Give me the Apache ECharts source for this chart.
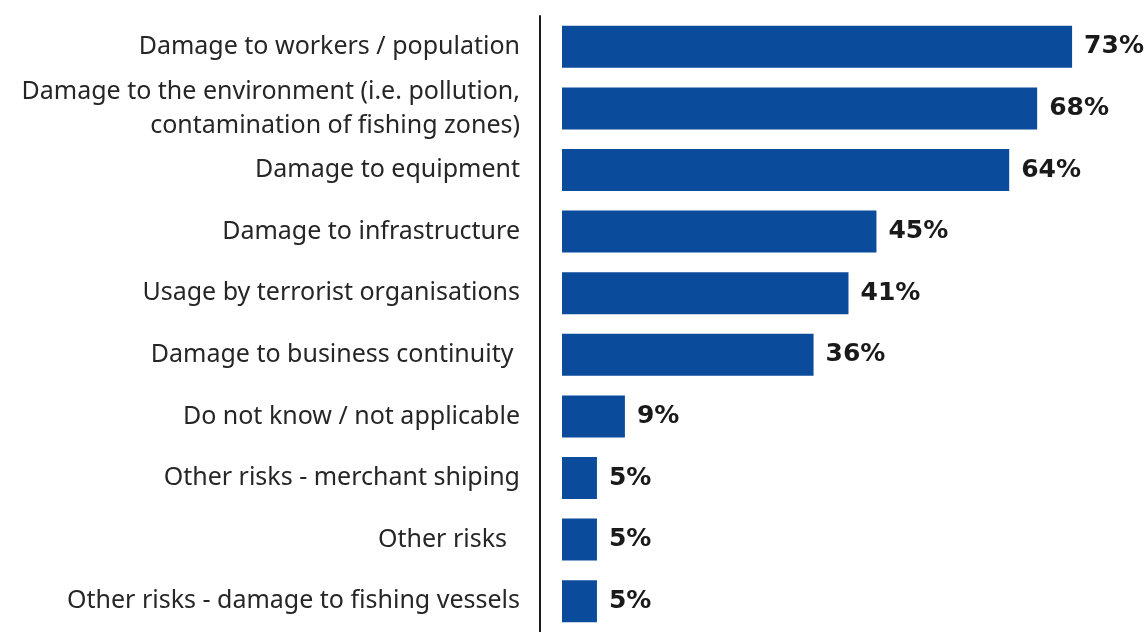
<!DOCTYPE html>
<html>
<head>
<meta charset="utf-8">
<script src="https://cdn.jsdelivr.net/npm/echarts@6/dist/echarts.min.js"></script>
<style>
  html, body { margin: 0; padding: 0; background: #ffffff; }
  #chart { width: 1148px; height: 632px; }
</style>
</head>
<body>
<div id="chart"></div>
<script>
// Risk categories, top to bottom
const categories = [
  'Damage to workers / population',
  'Damage to the environment (i.e. pollution,\ncontamination of fishing zones)',
  'Damage to equipment',
  'Damage to infrastructure',
  'Usage by terrorist organisations',
  'Damage to business continuity ',
  'Do not know / not applicable',
  'Other risks - merchant shiping',
  'Other risks  ',
  'Other risks - damage to fishing vessels'
];

// Share of respondents (%)
const shares = [73, 68, 64, 45, 41, 36, 9, 5, 5, 5];

const chart = echarts.init(document.getElementById('chart'), null, { renderer: 'canvas' });

chart.setOption({
  animation: false,
  backgroundColor: '#ffffff',
  // the small negative min leaves a gap between the axis line and the bars' base
  grid: { left: 540, right: 27, top: 16, bottom: -7, containLabel: false },
  xAxis: {
    type: 'value',
    min: -3.15,
    max: 80,
    show: false
  },
  yAxis: {
    type: 'category',
    data: categories,
    inverse: true,
    axisLine: { show: true, onZero: false, lineStyle: { color: '#1a1a1a', width: 2 } },
    axisTick: { show: false },
    splitLine: { show: false },
    axisLabel: {
      margin: 20,
      fontFamily: 'Noto Sans',
      fontSize: 25,
      lineHeight: 34,
      color: '#262626',
      align: 'right'
    }
  },
  series: [{
    type: 'bar',
    data: shares,
    barWidth: 42,
    itemStyle: { color: '#0a4b9b' },
    label: {
      show: true,
      position: 'right',
      distance: 12,
      formatter: '{c}%',
      fontFamily: 'DejaVu Sans',
      fontWeight: 'bold',
      fontSize: 25,
      color: '#1a1a1a'
    }
  }]
});
</script>
</body>
</html>
